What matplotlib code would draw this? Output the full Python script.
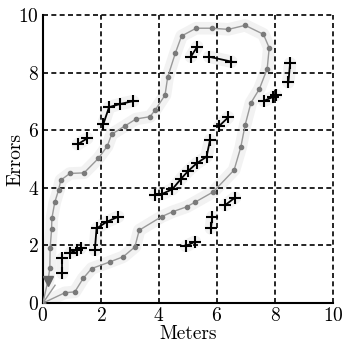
import matplotlib.pyplot as plt

# gray loop (dots + line)
loop_x = [0.0, 0.18, 0.24, 0.25, 0.30, 0.31, 0.41, 0.54, 0.62, 0.93, 1.42, 1.91, 2.22,
          2.37, 2.83, 3.21, 3.69, 3.87, 4.21, 4.30, 4.57, 4.78, 5.28, 5.82, 6.39, 6.97,
          7.60, 7.80, 7.73, 7.46, 7.17, 6.97, 6.82, 6.59, 5.87, 5.24, 4.95, 4.47, 4.09,
          3.32, 3.17, 2.77, 2.31, 1.68, 1.39, 1.10, 0.76, 0.0]
loop_y = [0.0, 0.80, 1.22, 1.90, 2.56, 2.94, 3.50, 3.92, 4.27, 4.50, 4.52, 5.02, 5.45,
          5.86, 6.15, 6.39, 6.47, 6.70, 7.22, 7.84, 8.69, 9.27, 9.54, 9.54, 9.50, 9.64,
          9.33, 8.86, 8.13, 7.43, 6.95, 6.18, 5.41, 4.62, 3.86, 3.50, 3.34, 3.17, 3.00,
          2.53, 1.95, 1.61, 1.43, 1.20, 0.86, 0.39, 0.36, 0.0]

# black "+" tracks
plus_tracks = [
    [(0.67, 1.55), (0.67, 1.05)],
    [(0.95, 1.75), (1.18, 1.85), (1.30, 1.90)],
    [(1.79, 1.84), (1.85, 2.59), (2.20, 2.82), (2.60, 3.00)],
    [(3.86, 3.75), (4.09, 3.78), (4.46, 3.95), (4.75, 4.30), (5.01, 4.59),
     (5.30, 4.85), (5.64, 5.08), (5.76, 5.66)],
    [(6.08, 6.15), (6.39, 6.45)],
    [(7.62, 7.02), (7.94, 7.16), (8.03, 7.22)],
    [(8.52, 8.32), (8.46, 7.66)],
    [(5.10, 8.55), (5.32, 8.90)],
    [(5.73, 8.55), (6.50, 8.38)],
    [(1.20, 5.51), (1.53, 5.72)],
    [(2.08, 6.20), (2.28, 6.80), (2.66, 6.91), (3.11, 7.01)],
    [(4.93, 1.98), (5.24, 2.13)],
    [(5.79, 2.59), (5.84, 3.00)],
    [(6.28, 3.40), (6.62, 3.66)],
]

plt.rcParams["font.family"] = "cmr10"
plt.rcParams["axes.formatter.use_mathtext"] = True
plt.rcParams["mathtext.fontset"] = "cm"

fig = plt.figure(figsize=(3.43, 3.48), dpi=100)
ax = fig.add_axes([0.125, 0.129, 0.846, 0.828])

# light halo
ax.plot(loop_x, loop_y, color="#f2f2f2", lw=9, solid_capstyle="round", zorder=1)
for trk in plus_tracks:
    tx, ty = zip(*trk)
    ax.plot(tx, ty, color="#f2f2f2", lw=9, solid_capstyle="round", zorder=1)

# gray loop
ax.plot(loop_x, loop_y, color="#999999", lw=1.0, marker="o", ms=3,
        mfc="#7a7a7a", mec="#7a7a7a", zorder=3)
ax.plot([0, 0.42], [0, 0.62], color="#999999", lw=1.0, zorder=3)
ax.plot([0.18], [0.78], marker="v", ms=7, color="#666666", zorder=3)

# black tracks
for trk in plus_tracks:
    tx, ty = zip(*trk)
    ax.plot(tx, ty, color="black", lw=1.3, marker="+", ms=9, mew=1.5, zorder=4)

ax.set_xlim(0, 10)
ax.set_ylim(0, 10)
ax.set_xticks(range(0, 11, 2))
ax.set_yticks(range(0, 11, 2))
ax.grid(True, color="black", ls=(0, (3, 2)), lw=1.2)
for gl in ax.get_xgridlines() + ax.get_ygridlines():
    gl.set_clip_on(False)
ax.set_axisbelow(False)
for s in ["top", "right"]:
    ax.spines[s].set_visible(False)
for s in ["left", "bottom"]:
    ax.spines[s].set_linewidth(1.5)
ax.tick_params(direction="in", length=0, labelsize=14)
ax.tick_params(axis="x", pad=3)
ax.tick_params(axis="y", pad=3)
ax.set_xlabel("Meters", fontsize=14, labelpad=0)
ax.set_ylabel("Errors", fontsize=14)
ax.yaxis.set_label_coords(-0.065, 0.5)

fig.savefig("out.png", dpi=100)
